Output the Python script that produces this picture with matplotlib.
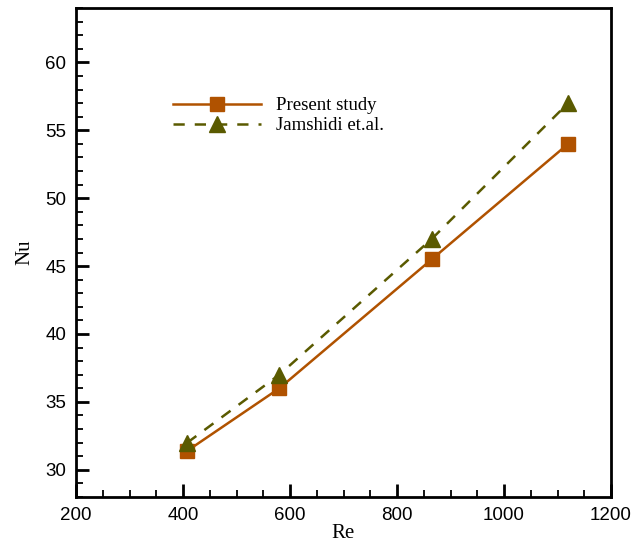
import numpy as np
import matplotlib
matplotlib.use("Agg")
import matplotlib.pyplot as plt
from matplotlib.ticker import MultipleLocator

# data
re_vals = [408, 580, 865, 1120]
nu_present = [31.4, 36.0, 45.5, 54.0]
nu_jamshidi = [32.0, 37.0, 47.0, 57.0]

col_present = "#B05200"
col_jam = "#5A5A00"

fig = plt.figure(figsize=(6.44, 5.44), dpi=100)
# axes box in pixels: left 76, right 611, top 8, bottom 497
ax = fig.add_axes([76/644, 1 - 497/544, (611 - 76)/644, (497 - 8)/544])

ax.plot(re_vals, nu_present, color=col_present, lw=1.8, marker="s", ms=10,
        mec=col_present, mfc=col_present, label="Present study")
ax.plot(re_vals, nu_jamshidi, color=col_jam, lw=1.8, ls=(0, (4.5, 4)), marker="^", ms=11,
        mec=col_jam, mfc=col_jam, label="Jamshidi et.al.")

ax.set_xlim(200, 1200)
ax.set_ylim(28, 64)
ax.xaxis.set_major_locator(MultipleLocator(200))
ax.xaxis.set_minor_locator(MultipleLocator(50))
ax.yaxis.set_minor_locator(MultipleLocator(1))
ax.set_yticks(np.arange(30, 61, 5))

ax.tick_params(which="both", direction="in", top=False, right=False,
               labelsize=13.5, pad=7, width=1.3)
ax.tick_params(which="major", length=9.5, width=2)
ax.tick_params(which="minor", length=5)
for lab in ax.get_xticklabels() + ax.get_yticklabels():
    lab.set_fontfamily("Liberation Sans")
for s in ax.spines.values():
    s.set_linewidth(2)

ax.set_xlabel("Re", family="Liberation Serif", fontsize=15, labelpad=0)
ax.set_ylabel("Nu", family="Liberation Serif", fontsize=15, labelpad=8)

leg = ax.legend(loc="upper left", bbox_to_anchor=(0.163, 0.837), frameon=False,
                prop={"family": "Liberation Serif", "size": 13.5},
                handlelength=4.7, handletextpad=0.8, labelspacing=0.15, borderpad=0)

fig.savefig("out.png", dpi=100)
